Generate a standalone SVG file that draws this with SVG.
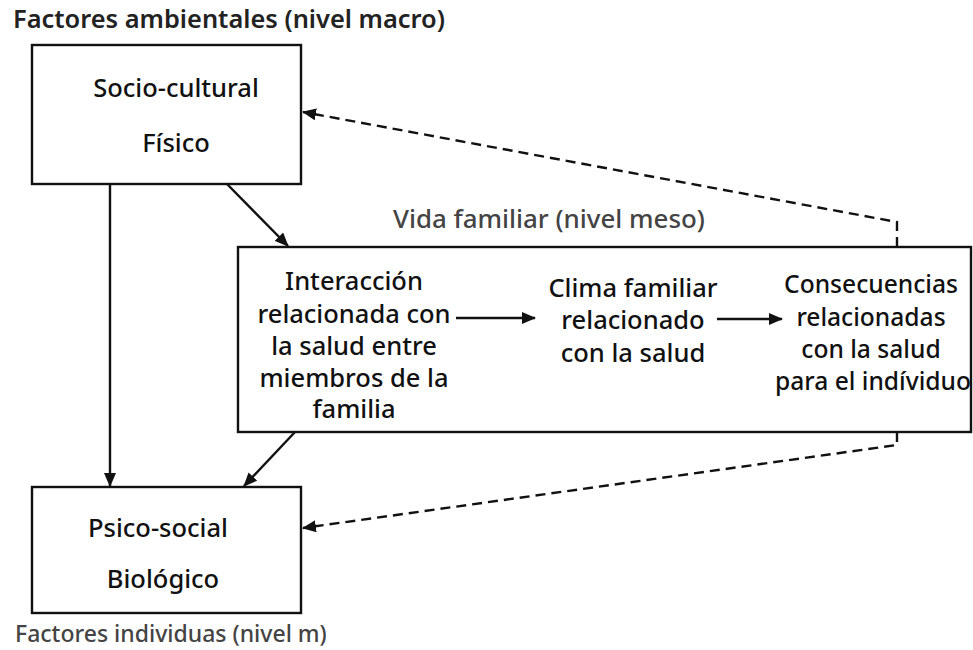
<svg xmlns="http://www.w3.org/2000/svg" width="973" height="650" viewBox="0 0 973 650">
<style>
text{font-family:"Noto Sans","Open Sans","DejaVu Sans",sans-serif;font-size:25.5px;font-weight:500;fill:#111;}
.t{text-anchor:middle;}
.hd{font-weight:600;font-size:25.4px;fill:#222;}
.lb{fill:#444;font-weight:500;}
.mz{font-size:25.9px;}
.sm{font-size:23px;}
.cs{font-size:24.6px;}
.box{fill:#fff;stroke:#111;stroke-width:2.4;}
.ln{fill:none;stroke:#111;stroke-width:2.4;}
.ds{fill:none;stroke:#111;stroke-width:2.4;stroke-dasharray:10 6;}
</style>
<defs>
<marker id="ah" viewBox="0 0 14 12" refX="13" refY="6" markerWidth="14" markerHeight="12" markerUnits="userSpaceOnUse" orient="auto">
<path d="M0,0 L14,6 L0,12 z" fill="#111"/>
</marker>
</defs>
<text id="title-macro" class="hd" x="13" y="28">Factores ambientales (nivel macro)</text>
<g id="macro">
<rect class="box" x="32" y="45" width="269" height="139"/>
<text class="t" x="176" y="97">Socio-cultural</text>
<text class="t" x="176" y="152">Físico</text>
</g>
<text id="title-meso" class="lb mz" x="393" y="228">Vida familiar (nivel meso)</text>
<g id="meso">
<rect class="box" x="238" y="247" width="733" height="185"/>
</g>
<g id="interaccion">
<text class="t" x="354" y="290">Interacción</text>
<text class="t" x="354" y="323">relacionada con</text>
<text class="t" x="354" y="355">la salud entre</text>
<text class="t" x="354" y="387">miembros de la</text>
<text class="t" x="354" y="418">familia</text>
</g>
<g id="clima">
<text class="t" x="633" y="297">Clima familiar</text>
<text class="t" x="633" y="329">relacionado</text>
<text class="t" x="633" y="362">con la salud</text>
</g>
<g id="consecuencias">
<text class="t cs" x="871" y="293">Consecuencias</text>
<text class="t cs" x="871" y="326">relacionadas</text>
<text class="t cs" x="871" y="358">con la salud</text>
<text class="t cs" x="873" y="390">para el indíviduo</text>
</g>
<g id="micro">
<rect class="box" x="32" y="487" width="269" height="126"/>
<text class="t" x="158" y="537">Psico-social</text>
<text class="t" x="163" y="588">Biológico</text>
</g>
<text id="title-micro" class="lb sm" x="15" y="642">Factores individuas (nivel m)</text>
<g id="connectors">
<path class="ln" d="M110,184 L110,486" marker-end="url(#ah)"/>
<path class="ln" d="M227,184 L288,246" marker-end="url(#ah)"/>
<path class="ln" d="M295,432 L244,486" marker-end="url(#ah)"/>
<path class="ln" d="M456,318 L535,318" marker-end="url(#ah)"/>
<path class="ln" d="M717,319 L782,319" marker-end="url(#ah)"/>
<path class="ds" d="M897,247 L897,222 L303,112" marker-end="url(#ah)"/>
<path class="ds" d="M897,432 L897,445 L303,528" marker-end="url(#ah)"/>
</g>
</svg>
